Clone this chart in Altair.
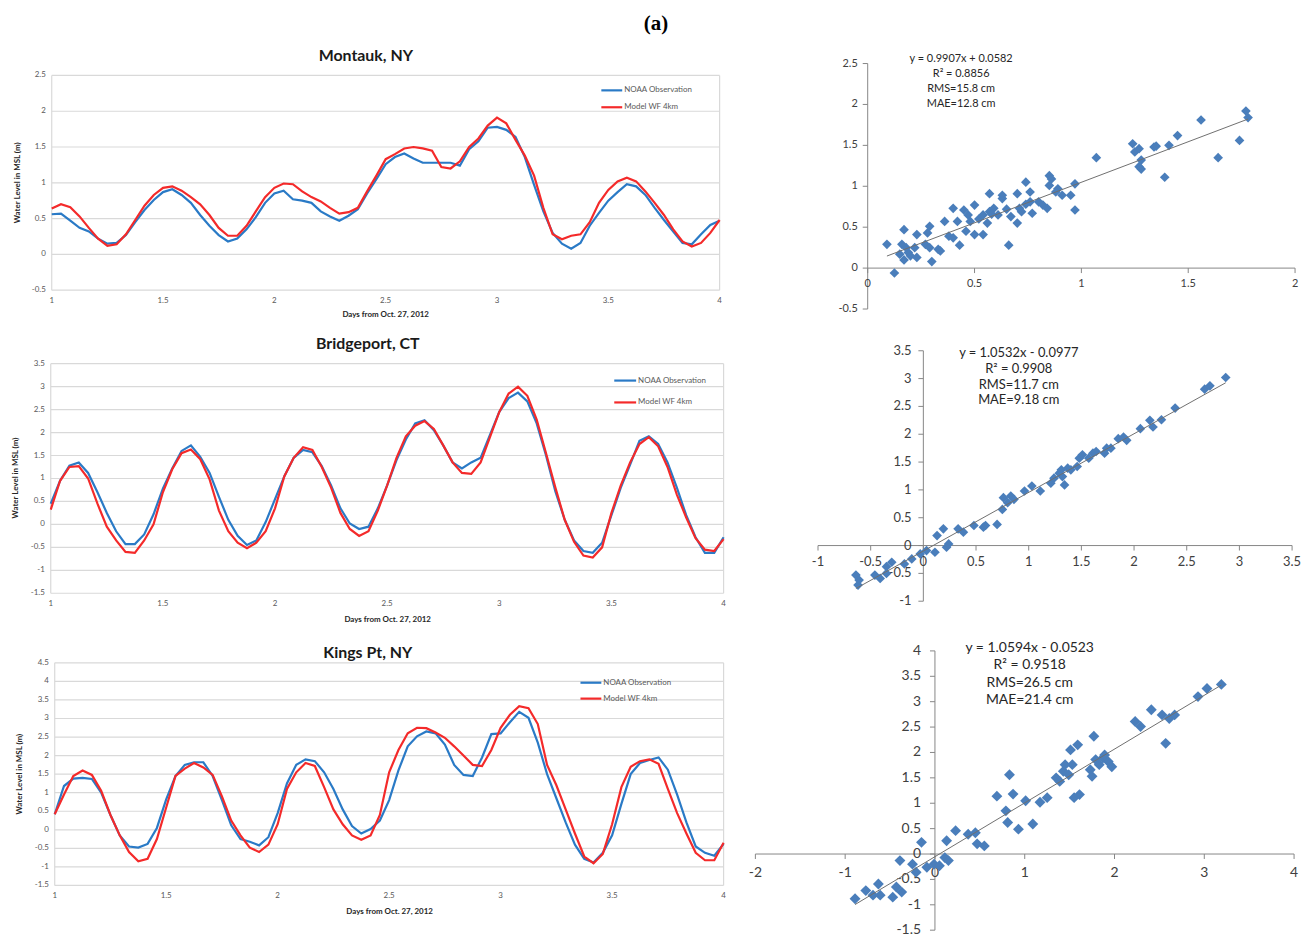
import altair as alt
import pandas as pd

OFF = 8
W, H = 1305, 932
FONT = "Lato"
BLUE = "#2a7ac6"
RED = "#f42a2a"
DIAMOND = "#4a7ebb"
GRID = "#d9d9d9"
TXT = "#595959"
AX = "#868686"

# ---------------- time-series data (hourly, days 1..4) ----------------
days = [round(1 + k / 24, 5) for k in range(73)]
day_ticks = [1, 1.5, 2, 2.5, 3, 3.5, 4]
day_labels = ["1", "1.5", "2", "2.5", "3", "3.5", "4"]

mont_obs = [0.56, 0.57, 0.47, 0.37, 0.32, 0.22, 0.15, 0.16, 0.27, 0.45, 0.62, 0.76,
            0.87, 0.91, 0.83, 0.72, 0.55, 0.40, 0.27, 0.18, 0.22, 0.35, 0.52, 0.72,
            0.85, 0.89, 0.77, 0.75, 0.72, 0.60, 0.53, 0.47, 0.54, 0.63, 0.85, 1.05,
            1.26, 1.36, 1.41, 1.34, 1.28, 1.28, 1.28, 1.28, 1.24, 1.47, 1.58, 1.77,
            1.78, 1.74, 1.64, 1.36, 0.97, 0.60, 0.30, 0.15, 0.08, 0.16, 0.40, 0.58,
            0.75, 0.87, 0.98, 0.95, 0.83, 0.65, 0.48, 0.32, 0.16, 0.14, 0.28, 0.41, 0.47]
mont_mod = [0.64, 0.70, 0.66, 0.53, 0.37, 0.22, 0.12, 0.14, 0.28, 0.48, 0.68, 0.83,
            0.93, 0.95, 0.89, 0.80, 0.70, 0.55, 0.37, 0.26, 0.26, 0.40, 0.60, 0.80,
            0.93, 0.99, 0.98, 0.88, 0.80, 0.74, 0.65, 0.57, 0.59, 0.65, 0.88, 1.10,
            1.33, 1.40, 1.48, 1.50, 1.48, 1.45, 1.22, 1.20, 1.30, 1.50, 1.62, 1.80,
            1.91, 1.83, 1.60, 1.38, 1.10, 0.65, 0.28, 0.21, 0.26, 0.28, 0.45, 0.72,
            0.90, 1.02, 1.07, 1.02, 0.88, 0.72, 0.55, 0.35, 0.18, 0.11, 0.16, 0.30, 0.48]

brid_obs = [0.45, 0.95, 1.28, 1.35, 1.12, 0.70, 0.25, -0.15, -0.43, -0.43, -0.22, 0.22,
            0.78, 1.22, 1.60, 1.72, 1.47, 1.12, 0.60, 0.10, -0.25, -0.45, -0.35, 0.05,
            0.55, 1.05, 1.45, 1.62, 1.57, 1.27, 0.85, 0.35, 0.02, -0.10, -0.05, 0.35,
            0.85, 1.40, 1.85, 2.20, 2.27, 2.05, 1.72, 1.35, 1.22, 1.35, 1.45, 1.95,
            2.45, 2.75, 2.87, 2.68, 2.20, 1.50, 0.72, 0.10, -0.35, -0.58, -0.62, -0.40,
            0.20, 0.80, 1.30, 1.82, 1.92, 1.75, 1.35, 0.80, 0.20, -0.28, -0.62, -0.62, -0.28]
brid_mod = [0.32, 0.95, 1.25, 1.27, 1.00, 0.45, -0.05, -0.35, -0.60, -0.62, -0.35, 0.00,
            0.70, 1.20, 1.55, 1.63, 1.42, 0.98, 0.30, -0.15, -0.40, -0.52, -0.40, -0.15,
            0.35, 1.05, 1.45, 1.68, 1.62, 1.25, 0.80, 0.25, -0.10, -0.25, -0.15, 0.30,
            0.85, 1.45, 1.92, 2.15, 2.25, 2.08, 1.72, 1.35, 1.12, 1.10, 1.35, 1.90,
            2.45, 2.85, 3.00, 2.80, 2.28, 1.55, 0.80, 0.10, -0.38, -0.68, -0.72, -0.50,
            0.25, 0.85, 1.35, 1.75, 1.90, 1.70, 1.25, 0.65, 0.15, -0.30, -0.55, -0.58, -0.32]

king_obs = [0.42, 1.18, 1.38, 1.40, 1.37, 1.00, 0.40, -0.15, -0.45, -0.48, -0.38, 0.05,
            0.82, 1.45, 1.75, 1.82, 1.82, 1.45, 0.80, 0.12, -0.25, -0.32, -0.42, -0.20,
            0.45, 1.25, 1.75, 1.90, 1.85, 1.55, 1.10, 0.55, 0.10, -0.10, 0.02, 0.25,
            0.80, 1.60, 2.25, 2.52, 2.65, 2.60, 2.30, 1.75, 1.48, 1.45, 1.95, 2.58,
            2.60, 2.90, 3.18, 3.02, 2.35, 1.50, 0.85, 0.20, -0.40, -0.78, -0.88, -0.62,
            -0.15, 0.70, 1.50, 1.80, 1.88, 1.95, 1.62, 0.95, 0.20, -0.45, -0.62, -0.70, -0.38]
king_mod = [0.42, 0.95, 1.45, 1.60, 1.48, 1.05, 0.40, -0.15, -0.60, -0.85, -0.78, -0.25,
            0.60, 1.45, 1.65, 1.80, 1.68, 1.48, 0.90, 0.25, -0.15, -0.48, -0.60, -0.40,
            0.15, 1.10, 1.55, 1.80, 1.72, 1.15, 0.55, 0.15, -0.15, -0.27, -0.15, 0.40,
            1.55, 2.15, 2.60, 2.75, 2.74, 2.62, 2.48, 2.25, 2.00, 1.75, 1.72, 2.15,
            2.75, 3.10, 3.33, 3.28, 2.85, 1.75, 1.20, 0.55, -0.10, -0.72, -0.90, -0.65,
            0.15, 1.15, 1.70, 1.85, 1.90, 1.78, 1.10, 0.45, -0.10, -0.62, -0.82, -0.82, -0.35]

# ---------------- scatter data (observation, model) ----------------
mont_sx = [0.09, 0.125, 0.17, 0.15, 0.17, 0.16, 0.18, 0.19, 0.23, 0.23, 0.22, 0.28, 0.29, 0.27,
           0.29, 0.30, 0.33, 0.34, 0.36, 0.40, 0.38, 0.40, 0.42, 0.43, 0.45, 0.47, 0.46, 0.48,
           0.50, 0.50, 0.54, 0.54, 0.56, 0.57, 0.57, 0.59, 0.61, 0.63, 0.63, 0.66, 0.67, 0.70,
           0.70, 0.71, 0.72, 0.74, 0.76, 0.76, 0.77, 0.80, 0.82, 0.84, 0.85, 0.85, 0.86, 0.89,
           0.91, 0.95, 0.97, 0.97, 1.07, 1.24, 1.25, 1.27, 1.28, 1.28, 1.34, 1.35, 1.39, 1.41,
           1.45, 1.56, 1.64, 1.74, 1.77, 1.78, 0.52, 0.58, 0.74, 0.88, 0.65, 0.20, 1.27]
mont_sy = [0.29, -0.06, 0.47, 0.17, 0.10, 0.29, 0.25, 0.19, 0.41, 0.13, 0.25, 0.43, 0.51, 0.29,
           0.25, 0.08, 0.23, 0.21, 0.57, 0.73, 0.39, 0.37, 0.57, 0.28, 0.71, 0.65, 0.45, 0.57,
           0.77, 0.41, 0.65, 0.41, 0.55, 0.91, 0.69, 0.73, 0.65, 0.85, 0.89, 0.28, 0.63, 0.55,
           0.91, 0.73, 0.69, 1.05, 0.81, 0.93, 0.67, 0.81, 0.77, 0.73, 1.13, 1.01, 1.09, 0.97,
           0.89, 0.89, 1.03, 0.71, 1.35, 1.52, 1.42, 1.46, 1.32, 1.21, 1.48, 1.49, 1.11, 1.50,
           1.62, 1.81, 1.35, 1.56, 1.92, 1.84, 0.60, 0.66, 0.78, 0.93, 0.72, 0.15, 1.24]

brid_sx = [-0.62, -0.64, -0.61, -0.46, -0.41, -0.35, -0.30, -0.35, -0.18, -0.11, -0.03, 0.03,
           0.11, 0.13, 0.19, 0.22, 0.24, 0.33, 0.38, 0.48, 0.57, 0.59, 0.70, 0.75, 0.76, 0.80,
           0.83, 0.86, 0.96, 1.03, 1.11, 1.21, 1.24, 1.29, 1.31, 1.32, 1.34, 1.37, 1.40, 1.46,
           1.48, 1.51, 1.57, 1.61, 1.64, 1.74, 1.72, 1.78, 1.85, 1.90, 1.93, 2.06, 2.15, 2.18,
           2.26, 2.39, 2.67, 2.72, 2.87]
brid_sy = [-0.71, -0.53, -0.62, -0.53, -0.59, -0.38, -0.30, -0.50, -0.33, -0.24, -0.15, -0.09,
           -0.12, 0.18, 0.30, -0.03, 0.03, 0.30, 0.24, 0.36, 0.33, 0.36, 0.38, 0.65, 0.86, 0.77,
           0.89, 0.83, 0.98, 1.07, 0.98, 1.12, 1.21, 1.30, 1.36, 1.24, 1.09, 1.39, 1.36, 1.42,
           1.57, 1.63, 1.57, 1.66, 1.69, 1.75, 1.66, 1.75, 1.92, 1.95, 1.89, 2.10, 2.25, 2.13,
           2.26, 2.47, 2.81, 2.87, 3.02]

king_sx = [-0.89, -0.77, -0.69, -0.63, -0.61, -0.47, -0.43, -0.39, -0.37, -0.25, -0.21, -0.15,
           -0.09, -0.01, 0.05, 0.11, 0.13, 0.15, 0.23, 0.37, 0.45, 0.47, 0.55, 0.69, 0.79, 0.81,
           0.83, 0.87, 0.93, 1.01, 1.09, 1.17, 1.25, 1.35, 1.39, 1.43, 1.45, 1.49, 1.51, 1.53,
           1.55, 1.59, 1.61, 1.73, 1.75, 1.77, 1.79, 1.83, 1.87, 1.89, 1.93, 1.97, 2.23, 2.29,
           2.41, 2.53, 2.57, 2.61, 2.67, 2.93, 3.03, 3.19]
king_sy = [-0.88, -0.72, -0.81, -0.59, -0.81, -0.85, -0.65, -0.13, -0.75, -0.20, -0.36, 0.23,
           -0.26, -0.20, -0.23, -0.07, 0.26, -0.13, 0.46, 0.39, 0.42, 0.20, 0.16, 1.14, 0.85, 0.62,
           1.56, 1.18, 0.49, 1.05, 0.59, 1.02, 1.11, 1.50, 1.43, 1.63, 1.76, 1.56, 2.05, 1.76,
           1.11, 2.15, 1.17, 1.66, 1.53, 2.32, 1.86, 1.76, 1.89, 1.95, 1.82, 1.72, 2.61, 2.51,
           2.84, 2.74, 2.18, 2.67, 2.74, 3.10, 3.26, 3.34]


def sc(dom, rng):
    return alt.Scale(domain=list(dom), range=[rng[0] - OFF, rng[1] - OFF], nice=False, zero=False)


def px(v):
    return alt.value(v - OFF)


def text_layer(s, x, y, **kw):
    kw.setdefault("font", FONT)
    return alt.Chart(pd.DataFrame({"t": [s]})).mark_text(**kw).encode(
        x=px(x), y=px(y), text="t:N")


def ts_panel(c):
    xs = sc((1, 4), c["xr"])
    ys = sc(c["ydom"], c["yr"])
    ymin, ymax = c["ydom"]

    def X(f):
        return alt.X(f"{f}:Q", scale=xs, axis=None)

    def Y(f):
        return alt.Y(f"{f}:Q", scale=ys, axis=None)

    grid = pd.DataFrame({"v": c["yticks"], "lab": c["ylabels"], "x0": 1.0, "x1": 4.0})
    border = pd.DataFrame({"x": [1.0, 4.0], "y0": ymin, "y1": ymax})
    xl = pd.DataFrame({"v": day_ticks, "lab": day_labels, "y0": ymin})
    obs = pd.DataFrame({"d": days, "v": c["obs"]})
    mod = pd.DataFrame({"d": days, "v": c["mod"]})
    L = [
        alt.Chart(grid).mark_rule(color=GRID, strokeWidth=1.2).encode(x=X("x0"), x2="x1", y=Y("v")),
        alt.Chart(border).mark_rule(color=GRID, strokeWidth=1.2).encode(x=X("x"), y=Y("y0"), y2="y1"),
        alt.Chart(grid).mark_text(align="right", baseline="middle", dx=-6, fontSize=8,
                                  color=TXT, font=FONT).encode(x=X("x0"), y=Y("v"), text="lab:N"),
        alt.Chart(xl).mark_text(align="center", baseline="middle", dy=11, fontSize=8,
                                color=TXT, font=FONT).encode(x=X("v"), y=Y("y0"), text="lab:N"),
        alt.Chart(obs).mark_line(color=BLUE, strokeWidth=2.2).encode(x=X("d"), y=Y("v")),
        alt.Chart(mod).mark_line(color=RED, strokeWidth=2.2).encode(x=X("d"), y=Y("v")),
    ]
    tx, ty = c["title_xy"]
    L.append(text_layer(c["title"], tx, ty, fontSize=16, fontWeight="bold", color="#1a1a1a",
                        align="center", baseline="middle"))
    yx, yy = c["ytitle_xy"]
    L.append(text_layer("Water Level in MSL (m)", yx, yy, fontSize=8, fontWeight="bold",
                        color="#262626", angle=270, align="center", baseline="middle"))
    xx, xy = c["xtitle_xy"]
    L.append(text_layer("Days from Oct. 27, 2012", xx, xy, fontSize=8, fontWeight="bold",
                        color="#262626", align="center", baseline="middle"))
    lx0, lx1, ly0, ly1 = c["legend"]
    for col, name, yy_ in ((BLUE, "NOAA Observation", ly0), (RED, "Model WF 4km", ly1)):
        L.append(alt.Chart(pd.DataFrame({"t": [name]})).mark_rule(color=col, strokeWidth=2.2).encode(
            x=px(lx0), x2=px(lx1), y=px(yy_)))
        L.append(text_layer(name, lx1 + 2, yy_, fontSize=8, color=TXT, align="left",
                            baseline="middle"))
    return L


def sc_panel(c):
    xs = sc(c["xdom"], c["xr"])
    ys = sc(c["ydom"], c["yr"])
    (xmin, xmax), (ymin, ymax) = c["xdom"], c["ydom"]

    def X(f):
        return alt.X(f"{f}:Q", scale=xs, axis=None)

    def Y(f):
        return alt.Y(f"{f}:Q", scale=ys, axis=None)

    fs = c["fs"]
    xax = pd.DataFrame({"x0": [xmin], "x1": [xmax], "z": [0.0]})
    yax = pd.DataFrame({"y0": [ymin], "y1": [ymax], "z": [0.0]})
    xt = pd.DataFrame({"v": c["xticks"], "lab": c["xlabels"], "z": 0.0})
    yt = pd.DataFrame({"v": c["yticks"], "lab": c["ylabels"], "z": 0.0})
    pts = pd.DataFrame({"o": c["sx"], "m": c["sy"]})
    a, b = c["fit"]
    lo, hi = min(c["sx"]), max(c["sx"])
    trend = pd.DataFrame({"o": [lo, hi], "m": [a * lo + b, a * hi + b]})
    L = [
        alt.Chart(xax).mark_rule(color=AX, strokeWidth=1).encode(x=X("x0"), x2="x1", y=Y("z")),
        alt.Chart(yax).mark_rule(color=AX, strokeWidth=1).encode(y=Y("y0"), y2="y1", x=X("z")),
        alt.Chart(xt).mark_rule(color=AX, strokeWidth=1, y2Offset=5).encode(x=X("v"), y=Y("z"), y2="z"),
        alt.Chart(yt).mark_rule(color=AX, strokeWidth=1, x2Offset=-5).encode(y=Y("v"), x=X("z"), x2="z"),
        alt.Chart(xt).mark_text(align="center", baseline="middle", dy=c["xdy"], fontSize=fs,
                                color="#404040", font=FONT).encode(x=X("v"), y=Y("z"), text="lab:N"),
        alt.Chart(yt).mark_text(align="right", baseline="middle", dx=c["ydx"], fontSize=fs,
                                color="#404040", font=FONT).encode(x=X("z"), y=Y("v"), text="lab:N"),
        alt.Chart(pts).mark_point(shape="diamond", filled=True, size=c["size"], color=DIAMOND,
                                  opacity=1, strokeWidth=0).encode(x=X("o"), y=Y("m")),
        alt.Chart(trend).mark_line(color="#6f6f6f", strokeWidth=1).encode(x=X("o"), y=Y("m")),
    ]
    ax_, ay_ = c["ann_xy"]
    L.append(text_layer("\n".join(c["ann"]), ax_, ay_, fontSize=c["afs"], lineBreak="\n",
                        lineHeight=c["alh"], color="#262626", align="center", baseline="top"))
    return L


left = [
    dict(title="Montauk, NY", obs=mont_obs, mod=mont_mod, xr=(52, 724), yr=(289, 73),
         ydom=(-0.5, 2.5), yticks=[-0.5, 0, 0.5, 1, 1.5, 2, 2.5],
         ylabels=["-0.5", "0", "0.5", "1", "1.5", "2", "2.5"],
         title_xy=(368, 53), ytitle_xy=(18, 181), xtitle_xy=(388, 314),
         legend=(605, 626, 88, 105)),
    dict(title="Bridgeport, CT", obs=brid_obs, mod=brid_mod, xr=(51, 728), yr=(594, 363),
         ydom=(-1.5, 3.5), yticks=[-1.5, -1, -0.5, 0, 0.5, 1, 1.5, 2, 2.5, 3, 3.5],
         ylabels=["-1.5", "-1", "-0.5", "0", "0.5", "1", "1.5", "2", "2.5", "3", "3.5"],
         title_xy=(370, 343), ytitle_xy=(16, 478), xtitle_xy=(390, 621),
         legend=(618, 640, 380, 402)),
    dict(title="Kings Pt, NY", obs=king_obs, mod=king_mod, xr=(55, 728), yr=(888, 664),
         ydom=(-1.5, 4.5), yticks=[-1.5, -1, -0.5, 0, 0.5, 1, 1.5, 2, 2.5, 3, 3.5, 4, 4.5],
         ylabels=["-1.5", "-1", "-0.5", "0", "0.5", "1", "1.5", "2", "2.5", "3", "3.5", "4", "4.5"],
         title_xy=(370, 654), ytitle_xy=(20, 776), xtitle_xy=(392, 915),
         legend=(584, 605, 684, 700)),
]

right = [
    dict(sx=mont_sx, sy=mont_sy, xdom=(0, 2), xr=(873, 1303), ydom=(-0.5, 2.5), yr=(308, 61),
         xticks=[0, 0.5, 1, 1.5, 2], xlabels=["0", "0.5", "1", "1.5", "2"],
         yticks=[-0.5, 0, 0.5, 1, 1.5, 2, 2.5],
         ylabels=["-0.5", "0", "0.5", "1", "1.5", "2", "2.5"],
         fs=11, xdy=16, ydx=-10, size=95, fit=(0.9907, 0.0582),
         ann=["y = 0.9907x + 0.0582", "R\u00b2 = 0.8856", "RMS=15.8 cm", "MAE=12.8 cm"],
         ann_xy=(967, 50), afs=11, alh=15.4),
    dict(sx=brid_sx, sy=brid_sy, xdom=(-1, 3.5), xr=(823, 1300), ydom=(-1, 3.5), yr=(602, 350),
         xticks=[-1, -0.5, 0, 0.5, 1, 1.5, 2, 2.5, 3, 3.5],
         xlabels=["-1", "-0.5", "0", "0.5", "1", "1.5", "2", "2.5", "3", "3.5"],
         yticks=[-1, -0.5, 0, 0.5, 1, 1.5, 2, 2.5, 3, 3.5],
         ylabels=["-1", "-0.5", "0", "0.5", "1", "1.5", "2", "2.5", "3", "3.5"],
         fs=13, xdy=17, ydx=-12, size=95, fit=(1.0532, -0.0977),
         ann=["y = 1.0532x - 0.0977", "R\u00b2 = 0.9908", "RMS=11.7 cm", "MAE=9.18 cm"],
         ann_xy=(1025, 346), afs=13, alh=16),
    dict(sx=king_sx, sy=king_sy, xdom=(-2, 4), xr=(760, 1302), ydom=(-1.5, 4), yr=(933, 652),
         xticks=[-2, -1, 0, 1, 2, 3, 4], xlabels=["-2", "-1", "0", "1", "2", "3", "4"],
         yticks=[-1.5, -1, -0.5, 0, 0.5, 1, 1.5, 2, 2.5, 3, 3.5, 4],
         ylabels=["-1.5", "-1", "-0.5", "0", "0.5", "1", "1.5", "2", "2.5", "3", "3.5", "4"],
         fs=14, xdy=19, ydx=-14, size=120, fit=(1.0594, -0.0523),
         ann=["y = 1.0594x - 0.0523", "R\u00b2 = 0.9518", "RMS=26.5 cm", "MAE=21.4 cm"],
         ann_xy=(1036, 642), afs=14, alh=17.5),
]

layers = [text_layer("(a)", 660, 21, font="Liberation Serif", fontSize=21, fontWeight="bold",
                     color="#000000", align="center", baseline="middle")]
for c in left:
    layers += ts_panel(c)
for c in right:
    layers += sc_panel(c)

chart = alt.layer(*layers).resolve_scale(x="independent", y="independent").properties(
    width=W, height=H, padding=0, autosize=alt.AutoSizeParams(type="none")
).configure_view(stroke=None)

chart.save("out.html", embed_options={"renderer": "svg", "actions": False})
